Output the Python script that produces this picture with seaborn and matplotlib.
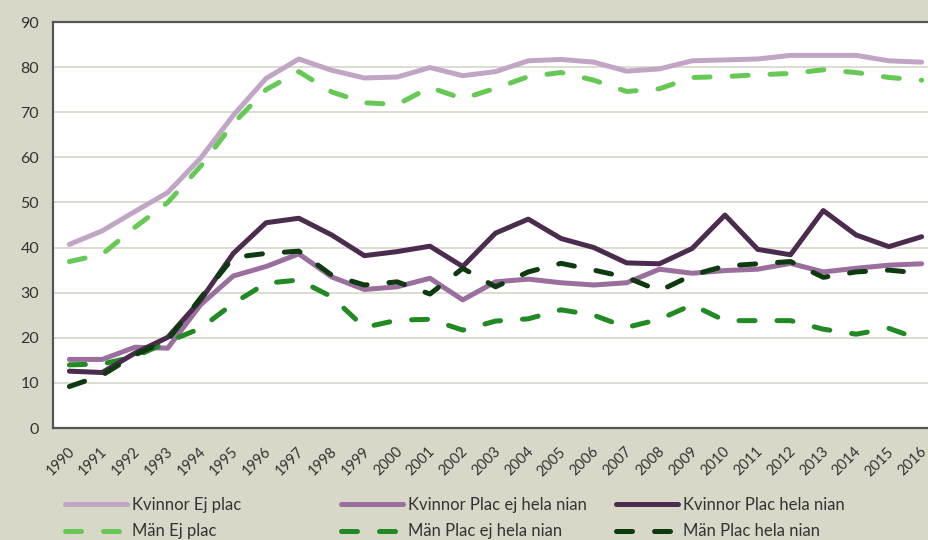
import numpy as np
import pandas as pd
import seaborn as sns
import matplotlib.pyplot as plt
from matplotlib.transforms import ScaledTranslation

years = [str(y) for y in range(1990, 2017)]

kvinnor_ej_plac = [40.7, 43.7, 48.0, 52.2, 59.8, 69.3, 77.5, 81.8, 79.3, 77.6, 77.8, 79.9, 78.1,
                   79.0, 81.4, 81.7, 81.1, 79.1, 79.6, 81.4, 81.6, 81.8, 82.6, 82.6, 82.6, 81.4, 81.1]
man_ej_plac = [36.9, 38.5, 44.5, 50.0, 58.0, 67.5, 75.0, 79.0, 74.5, 72.1, 71.7, 75.5, 73.0,
               75.3, 77.9, 78.8, 77.1, 74.6, 75.2, 77.7, 77.9, 78.3, 78.6, 79.4, 78.8, 77.7, 77.1]
kvinnor_plac_ej_hela = [15.2, 15.2, 17.9, 17.7, 27.3, 33.7, 35.8, 38.6, 33.5, 30.7, 31.3, 33.2, 28.4,
                        32.4, 33.0, 32.2, 31.7, 32.2, 35.2, 34.3, 34.9, 35.2, 36.5, 34.6, 35.4, 36.1, 36.4]
kvinnor_plac_hela = [12.6, 12.3, 16.6, 20.1, 28.3, 38.7, 45.5, 46.5, 42.8, 38.2, 39.1, 40.3, 35.8,
                     43.2, 46.3, 42.0, 40.0, 36.6, 36.4, 39.8, 47.2, 39.6, 38.4, 48.2, 42.8, 40.2, 42.4]
man_plac_ej_hela = [14.0, 14.2, 15.8, 19.1, 22.1, 27.6, 32.1, 32.8, 29.1, 22.3, 23.9, 24.1, 21.7,
                    23.7, 24.2, 26.2, 25.0, 22.3, 24.1, 27.3, 23.8, 23.8, 23.8, 21.9, 20.8, 22.1, 19.5]
man_plac_hela = [9.2, 11.7, 16.2, 19.5, 28.8, 37.8, 38.7, 39.2, 33.9, 31.7, 32.4, 29.7, 35.4,
                 31.3, 34.6, 36.5, 35.0, 33.4, 30.4, 33.9, 35.9, 36.4, 36.9, 33.4, 34.6, 35.0, 34.3]

# legend order: one column per pair (Kvinnor over Män)
series_names = ["Kvinnor Ej plac", "Män Ej plac",
                "Kvinnor Plac ej hela nian", "Män Plac ej hela nian",
                "Kvinnor Plac hela nian", "Män Plac hela nian"]
series_values = [kvinnor_ej_plac, man_ej_plac, kvinnor_plac_ej_hela,
                 man_plac_ej_hela, kvinnor_plac_hela, man_plac_hela]
colors = ["#c1a5c5", "#66c955", "#9a6f9e", "#228a22", "#4b2c4f", "#0e3a10"]
dashed = [False, True, False, True, False, True]

bg = "#d8d8c8"
sns.set_style("white")
plt.rcParams["font.family"] = ["Lato", "DejaVu Sans"]

fig = plt.figure(figsize=(9.29, 5.40), dpi=100, facecolor=bg)
ax = fig.add_axes([53 / 929, 112 / 540, 885 / 929, 406 / 540])
ax.set_facecolor("white")

x = np.arange(len(years))
for name, vals, col, dsh in zip(series_names, series_values, colors, dashed):
    df = pd.DataFrame({"x": x, "v": vals})
    line_kw = dict(dashes=(3.2, 4.4), dash_capstyle="round") if dsh else dict(solid_capstyle="round")
    sns.lineplot(data=df, x="x", y="v", ax=ax, color=col, lw=3.6, label=name, **line_kw)

ax.set_xlim(-0.5, len(years) - 0.5)
ax.set_ylim(0, 90)
ax.set_yticks(range(0, 91, 10))
ax.yaxis.grid(True, color="#dcdccf", lw=1.4)
ax.set_axisbelow(True)

ax.set_xticks(x)
ax.set_xticklabels(years, rotation=45, ha="right", va="top", rotation_mode="anchor")
ax.set_xticks(np.arange(-0.5, len(years), 1), minor=True)
ax.tick_params(axis="x", which="major", length=0, pad=12, labelsize=10.5, colors="#333333")
ax.tick_params(axis="x", which="minor", length=5, width=1.2, direction="in", color="#333333")
ax.tick_params(axis="y", length=0, labelsize=11.5, colors="#333333", pad=10)
shift = ScaledTranslation(-2 / 100, 0, fig.dpi_scale_trans)
for lab in ax.get_xticklabels():
    lab.set_transform(lab.get_transform() + shift)
ax.set_xlabel("")
ax.set_ylabel("")

for s in ["left", "bottom", "top"]:
    ax.spines[s].set_color("#555555")
    ax.spines[s].set_linewidth(1.6)
ax.spines["right"].set_visible(False)

handles, labels = ax.get_legend_handles_labels()
if ax.get_legend() is not None:
    ax.get_legend().remove()
col_x = [65, 341, 616]
for i, cx in enumerate(col_x):
    leg = fig.legend(handles[2 * i:2 * i + 2], labels[2 * i:2 * i + 2], loc="upper left",
                     bbox_to_anchor=(cx / 929, 43 / 540), frameon=False, fontsize=12,
                     handlelength=3.7, handletextpad=0.35, labelspacing=0.62,
                     borderpad=0, borderaxespad=0)
    for t in leg.get_texts():
        t.set_color("#333333")

fig.savefig("out.png", dpi=100, facecolor=bg)
